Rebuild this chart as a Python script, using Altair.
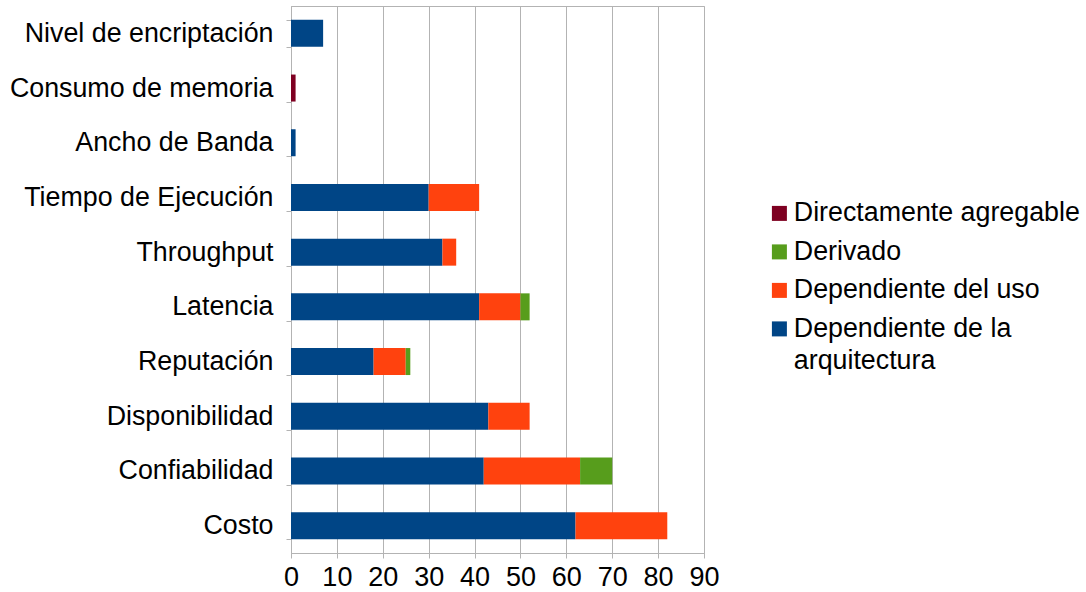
import altair as alt
import pandas as pd

categories = ["Nivel de encriptación", "Consumo de memoria", "Ancho de Banda",
              "Tiempo de Ejecución", "Throughput", "Latencia", "Reputación",
              "Disponibilidad", "Confiabilidad", "Costo"]
series = ["Directamente agregable", "Derivado", "Dependiente del uso",
          "Dependiente de la arquitectura"]
colors = ["#7e0021", "#579d1c", "#ff420e", "#004586"]

arquitectura = [7, 0, 1, 30, 33, 41, 18, 43, 42, 62]
uso = [0, 0, 0, 11, 3, 9, 7, 9, 21, 20]
derivado = [0, 0, 0, 0, 0, 2, 1, 0, 7, 0]
directamente = [0, 1, 0, 0, 0, 0, 0, 0, 0, 0]

rows = []
for vals, name, order in [(arquitectura, series[3], 0), (uso, series[2], 1),
                          (derivado, series[1], 2), (directamente, series[0], 3)]:
    for c, v in zip(categories, vals):
        if v > 0:
            rows.append({"cat": c, "serie": name, "val": v, "ord": order})
df = pd.DataFrame(rows)

FONT = "Liberation Sans"

chart = alt.Chart(df).mark_bar(size=27).encode(
    y=alt.Y("cat:N", sort=categories, title=None,
            scale=alt.Scale(paddingInner=0.5, paddingOuter=0.25),
            axis=alt.Axis(tickBand="extent", tickSize=5, labelPadding=13,
                          labelFontSize=26.8, labelColor="black", domainColor="#b3b3b3",
                          tickColor="#b3b3b3", labelFont=FONT, labelLimit=400)),
    x=alt.X("val:Q", stack="zero", title=None,
            scale=alt.Scale(domain=[0, 90], nice=False),
            axis=alt.Axis(values=list(range(0, 91, 10)), tickSize=5, labelFontSize=27,
                          labelColor="black", domainColor="#b3b3b3", tickColor="#b3b3b3",
                          gridColor="#b3b3b3", labelFont=FONT, labelPadding=6,
                          labelFlush=False)),
    color=alt.Color("serie:N", scale=alt.Scale(domain=series, range=colors),
                    legend=alt.Legend(title=None, orient="none", legendX=475, legendY=194,
                                      symbolType="square", symbolSize=225,
                                      symbolStrokeWidth=0, labelFontSize=26.8,
                                      labelFont=FONT, labelColor="black",
                                      rowPadding=10.5, labelOffset=1, labelLimit=400,
                                      labelExpr="datum.label == 'Dependiente de la arquitectura' ? ['Dependiente de la', 'arquitectura'] : datum.label")),
    order=alt.Order("ord:Q"),
).properties(
    width=413, height=547,
    autosize=alt.AutoSizeParams(type="none"),
    padding={"left": 291, "top": 6, "right": 382, "bottom": 39},
).configure_view(stroke="#b3b3b3").configure_axis(grid=False).configure_axisX(
    grid=True
)
chart.config.style = {"guide-label": {"lineHeight": 32}}

chart.save("out.html", embed_options={"renderer": "svg", "actions": False})
